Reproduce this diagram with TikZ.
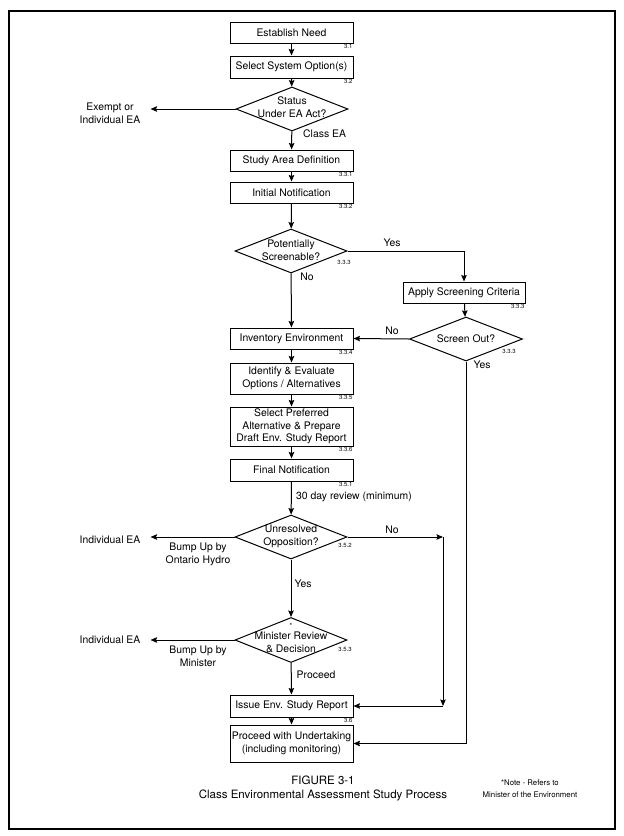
\documentclass[tikz,border=0pt]{standalone}
\usepackage{fontspec}
\setmainfont{TeX Gyre Heros}
\usetikzlibrary{shapes.geometric,arrows.meta}
\begin{document}
\begin{tikzpicture}[x=1pt,y=-1pt,
  every node/.style={font=\fontsize{10.4}{12.7}\selectfont},
  box/.style={draw,line width=1pt,minimum width=123pt,align=center,inner sep=1pt},
  dia/.style={draw,diamond,line width=1pt,inner sep=0pt,minimum width=112pt,minimum height=44pt},
  dtext/.style={align=center,inner sep=0pt},
  txt/.style={align=center,inner sep=1pt},
  side/.style={align=center,inner ysep=1pt,inner xsep=10pt},
  num/.style={font=\fontsize{6}{6.5}\selectfont,inner sep=0.8pt},
  arr/.style={line width=1pt,-{Stealth[length=6.5pt,width=5.5pt,inset=1pt]}},
  ln/.style={line width=1pt}]
\useasboundingbox (0,0) rectangle (624,836);
\draw[line width=1.2pt] (9,11) rectangle (615,829);

% main column
\node[box,minimum height=21pt,label={[num,anchor=north east]south east:3.1}] (need) at (291.5,32.5) {Establish Need};
\node[box,minimum height=22pt,label={[num,anchor=north east]south east:3.2}] (opt) at (291.5,67) {Select System Option(s)};
\node[dia] (st) at (292,109) {};
\node[dtext] (stt) at (292,107) {Status\\Under EA Act?};
\node[side] (ex) at (110,113.5) {Exempt or\\Individual EA};
\node[txt,anchor=west] (lclass) at (302,134) {Class EA};
\node[box,minimum height=21pt,label={[num,anchor=north east]south east:3.3.1}] (area) at (291.5,160.5) {Study Area Definition};
\node[box,minimum height=21pt,label={[num,anchor=north east]south east:3.3.2}] (inot) at (291.5,192.5) {Initial Notification};
\node[dia] (sc) at (291,251) {};
\node[dtext] (sct) at (291,250) {Potentially\\Screenable?};
\node[num] (nsc) at (344,262) {3.3.3};
\node[txt] (lyes1) at (392,243) {Yes};
\node[txt] (lno1) at (307,277) {No};
\node[box,minimum width=122pt,minimum height=21pt,label={[num,anchor=north east]south east:3.3.3}] (apply) at (464,292.5) {Apply Screening Criteria};
\node[dia,minimum width=113pt] (out) at (466,339) {};
\node[dtext] (outt) at (466,339) {Screen Out?};
\node[num] (nout) at (509,351) {3.3.3};
\node[txt] (lno2) at (392,331) {No};
\node[txt] (lyes2) at (482,365) {Yes};
\node[box,minimum height=21pt,label={[num,anchor=north east]south east:3.3.4}] (inv) at (291.5,338.5) {Inventory Environment};
\node[box,minimum height=31pt,label={[num,anchor=north east]south east:3.3.5}] (ident) at (291.5,378.5) {Identify \& Evaluate\\Options / Alternatives};
\node[box,minimum height=39pt,label={[num,anchor=north east]south east:3.3.6}] (sel) at (291.5,426.5) {Select Preferred\\Alternative \& Prepare\\Draft Env. Study Report};
\node[box,minimum height=22pt,label={[num,anchor=north east]south east:3.5.1}] (fin) at (291.5,470) {Final Notification};
\node[txt,anchor=west] (l30) at (295,497) {30 day review (minimum)};
\node[dia] (unres) at (291,537) {};
\node[dtext] (unrest) at (291,536) {Unresolved\\Opposition?};
\node[num] (nun) at (345,545) {3.5.2};
\node[side] (ind1) at (110,540) {Individual EA};
\node[txt] (lbump1) at (198,554) {Bump Up by\\Ontario Hydro};
\node[txt] (lno3) at (392,530) {No};
\coordinate (c1) at (443,537);
\coordinate (c2) at (443,706);
\node[txt] (lyes3) at (303,584) {Yes};
\node[dia,minimum height=45pt] (minr) at (291,640) {};
\node[dtext] (minrt) at (291,642) {Minister Review\\\& Decision};
\node[num,font=\fontsize{7}{7}\selectfont] (ast) at (291,626) {*};
\node[num] (nmin) at (345,649) {3.5.3};
\node[side] (ind2) at (110,640) {Individual EA};
\node[txt] (lbump2) at (198,656) {Bump Up by\\Minister};
\node[txt] (lproc) at (316,675) {Proceed};
\node[box,minimum height=22pt,label={[num,anchor=north east]south east:3.6}] (issue) at (291.5,706) {Issue Env. Study Report};
\node[box,minimum height=37pt] (proc) at (291.5,743.5) {Proceed with Undertaking\\(including monitoring)};

% caption
\node[txt,font=\fontsize{11.5}{14}\selectfont] (cap) at (323,788) {FIGURE 3-1\\Class Environmental Assessment Study Process};
\node[txt,font=\fontsize{7.8}{12}\selectfont] (note) at (530,789) {*Note - Refers to\\Minister of the Environment};

% connectors
\draw[arr] (need) -- (opt);
\draw[arr] (opt) -- (st);
\draw[arr] (st.west) -- (st.west -| ex.east);
\draw[arr] (st) -- (area);
\draw[arr] (area) -- (inot);
\draw[arr] (inot) -- (sc);
\draw[arr] (sc.east) -| (apply.north);
\draw[arr] (sc) -- (inv);
\draw[arr] (apply) -- (out);
\draw[arr] (out.west) -- (inv.east);
\draw[arr] (out.south) |- (proc.east);
\draw[arr] (inv) -- (ident);
\draw[arr] (ident) -- (sel);
\draw[arr] (sel) -- (fin);
\draw[arr] (fin) -- (unres);
\draw[arr] (unres.west) -- (unres.west -| ind1.east);
\draw[arr] (unres.east) -- (c1);
\draw[arr] (c1) -- (c2);
\draw[arr] (c2) -- (issue.east);
\draw[arr] (unres) -- (minr);
\draw[arr] (minr.west) -- (minr.west -| ind2.east);
\draw[arr] (minr) -- (issue);
\draw[arr] (issue) -- (proc);
\end{tikzpicture}
\end{document}
